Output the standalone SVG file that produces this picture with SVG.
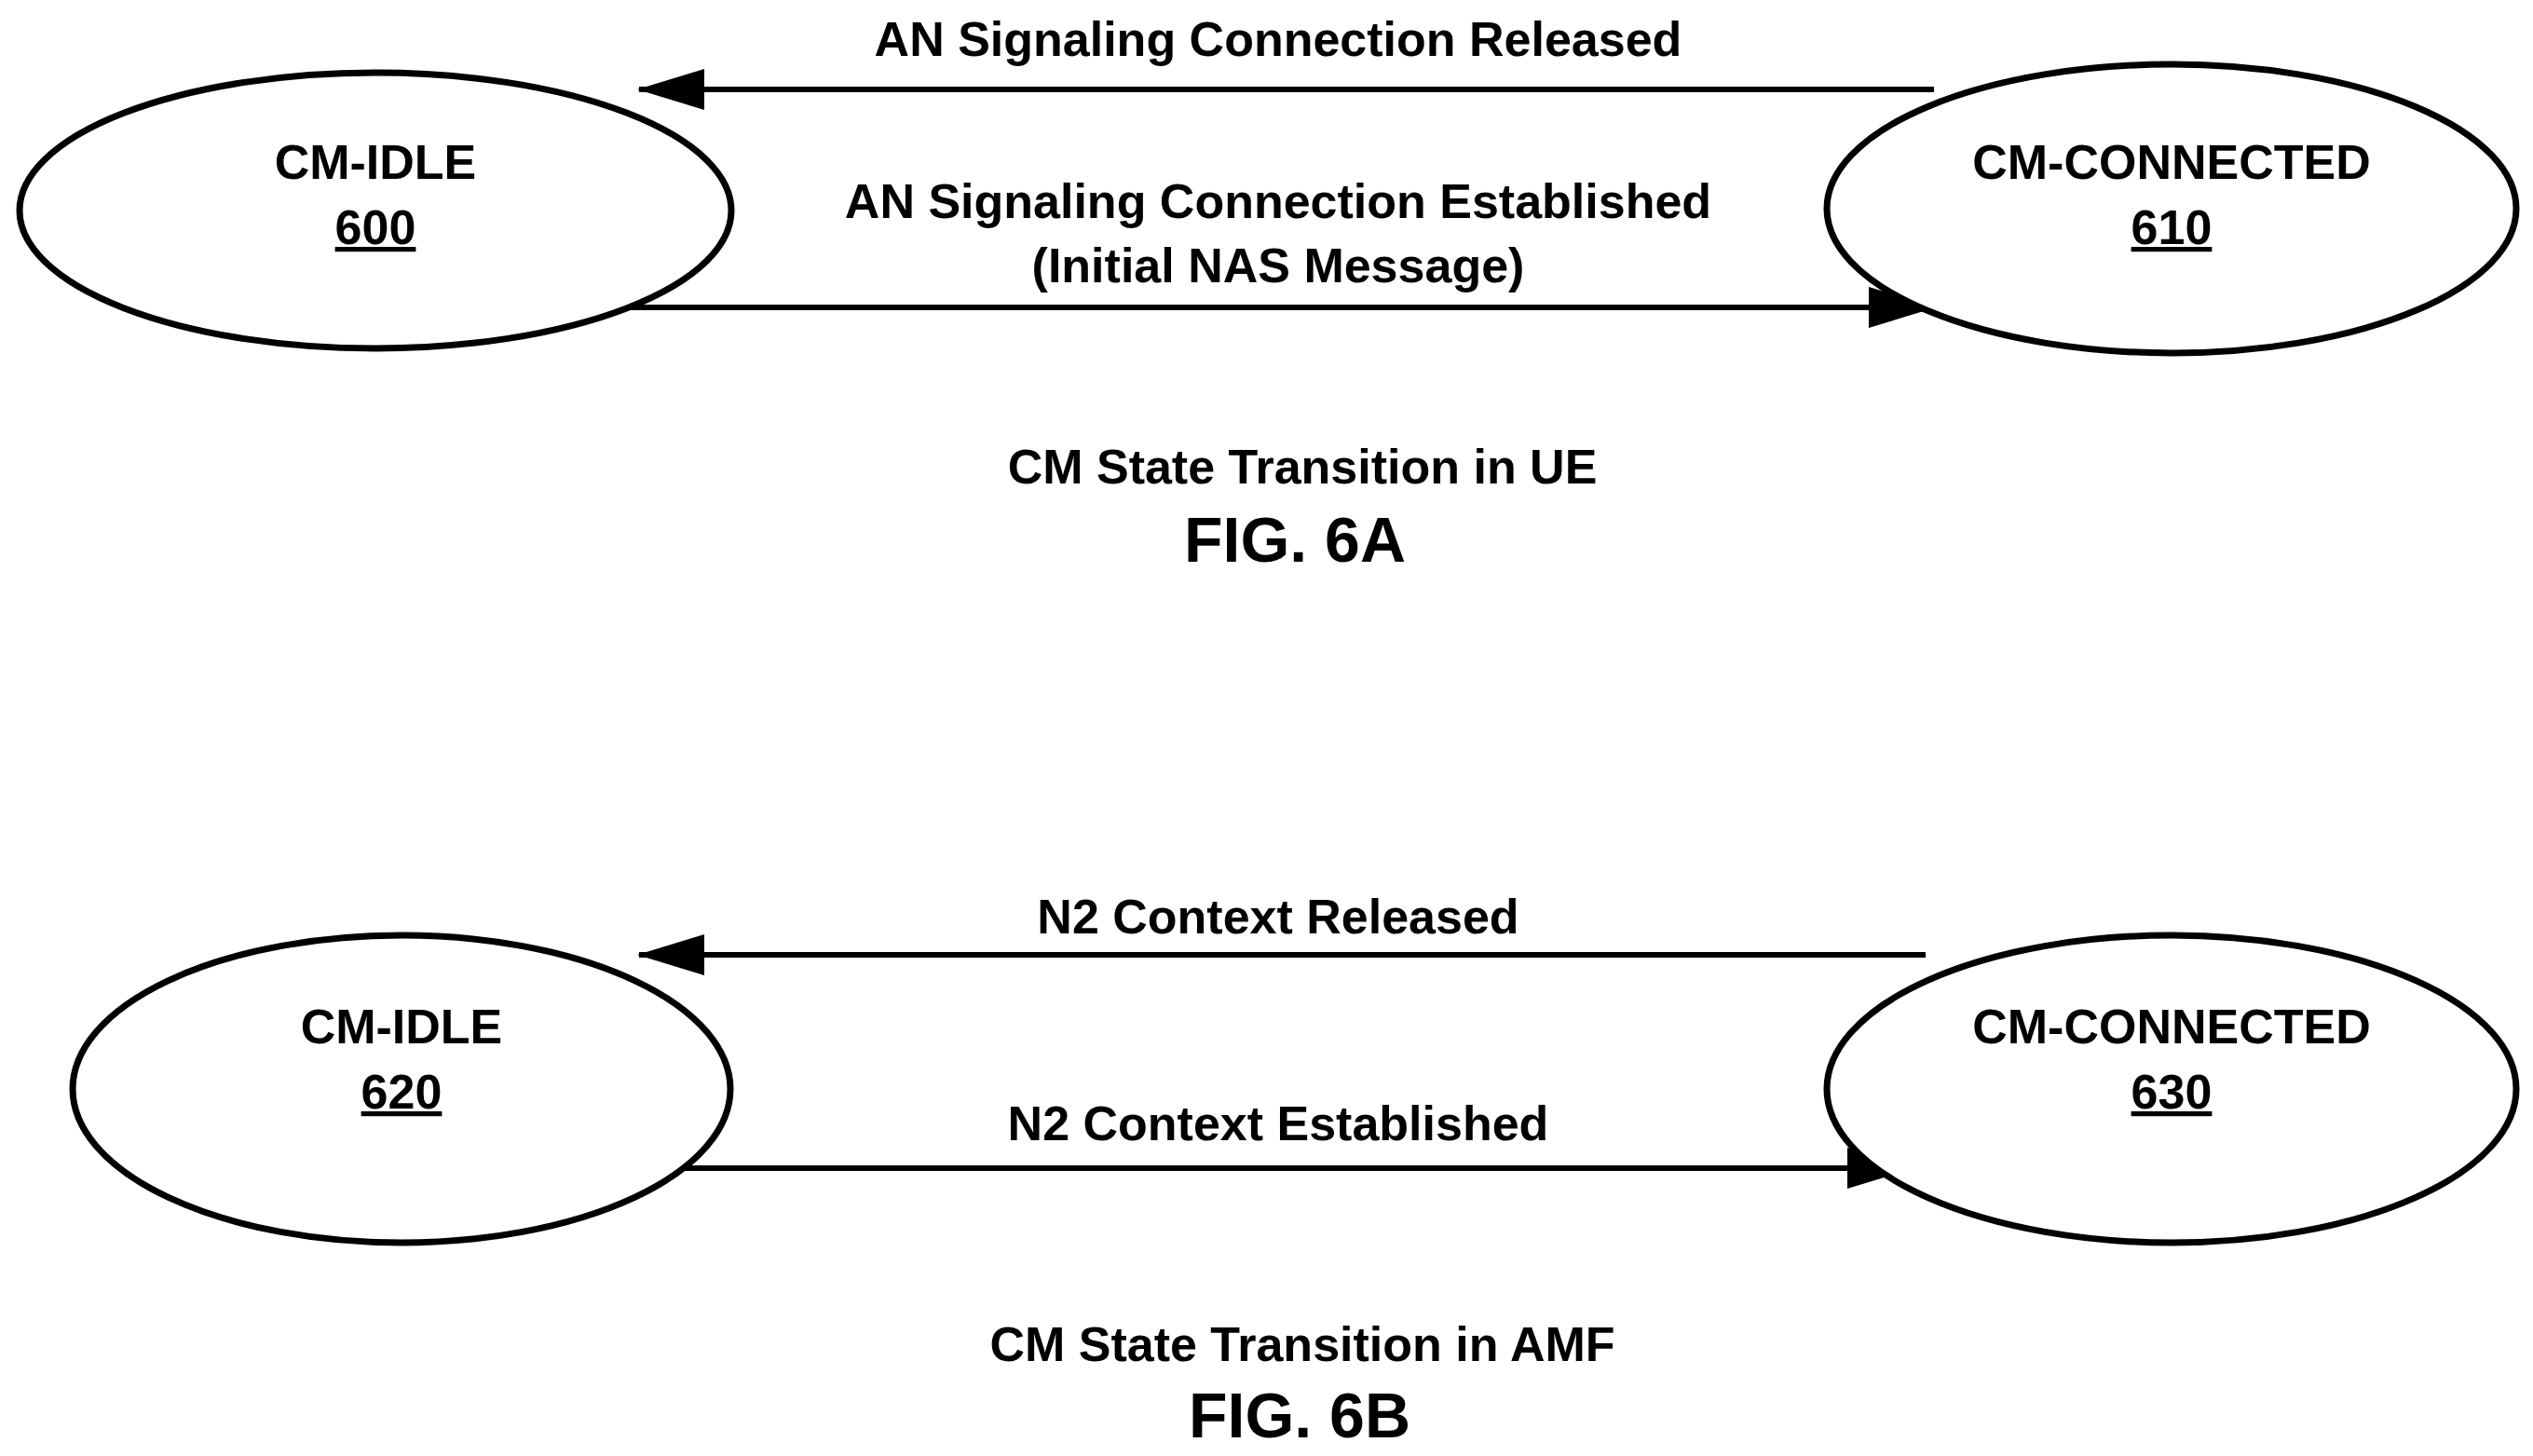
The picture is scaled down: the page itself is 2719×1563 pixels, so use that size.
<svg xmlns="http://www.w3.org/2000/svg" width="2719" height="1563" viewBox="0 0 2719 1563">
<style>
.n{fill:#fff;stroke:#000;stroke-width:7}
.t{font-family:"Liberation Sans",Arial,sans-serif;font-weight:bold;font-size:52px;text-anchor:middle;fill:#000}
.f{font-size:68px}
.c{stroke:#000;stroke-width:6;fill:none;marker-end:url(#a)}
</style>
<defs>
<marker id="a" markerUnits="userSpaceOnUse" markerWidth="72" markerHeight="44" refX="70" refY="22" orient="auto"><path d="M0,0L72,22L0,44z" fill="#000"/></marker>
</defs>
<rect width="2719" height="1563" fill="#fff"/>
<g id="connectors">
<line class="c" x1="2076" y1="96" x2="686" y2="96"/>
<line class="c" x1="674" y1="330" x2="2076" y2="330"/>
<line class="c" x1="2067" y1="1025" x2="686" y2="1025"/>
<line class="c" x1="677" y1="1254" x2="2053" y2="1254"/>
</g>
<g id="labels">
<text class="t" x="1372" y="60">AN Signaling Connection Released</text>
<text class="t" x="1372" y="234">AN Signaling Connection Established</text>
<text class="t" x="1372" y="303">(Initial NAS Message)</text>
<text class="t" x="1372" y="1002">N2 Context Released</text>
<text class="t" x="1372" y="1224">N2 Context Established</text>
<text class="t" x="1398" y="519">CM State Transition in UE</text>
<text class="t f" x="1390" y="603">FIG. 6A</text>
<text class="t" x="1398" y="1461">CM State Transition in AMF</text>
<text class="t f" x="1395" y="1543">FIG. 6B</text>
</g>
<g id="n600"><ellipse class="n" cx="403" cy="226" rx="382" ry="148"/><text class="t" x="403" y="192">CM-IDLE</text><text class="t" x="403" y="262" text-decoration="underline">600</text></g>
<g id="n610"><ellipse class="n" cx="2331" cy="224" rx="370" ry="155"/><text class="t" x="2331" y="192">CM-CONNECTED</text><text class="t" x="2331" y="262" text-decoration="underline">610</text></g>
<g id="n620"><ellipse class="n" cx="431" cy="1169" rx="353" ry="165"/><text class="t" x="431" y="1120">CM-IDLE</text><text class="t" x="431" y="1190" text-decoration="underline">620</text></g>
<g id="n630"><ellipse class="n" cx="2331" cy="1169" rx="370" ry="165"/><text class="t" x="2331" y="1120">CM-CONNECTED</text><text class="t" x="2331" y="1190" text-decoration="underline">630</text></g>
</svg>
